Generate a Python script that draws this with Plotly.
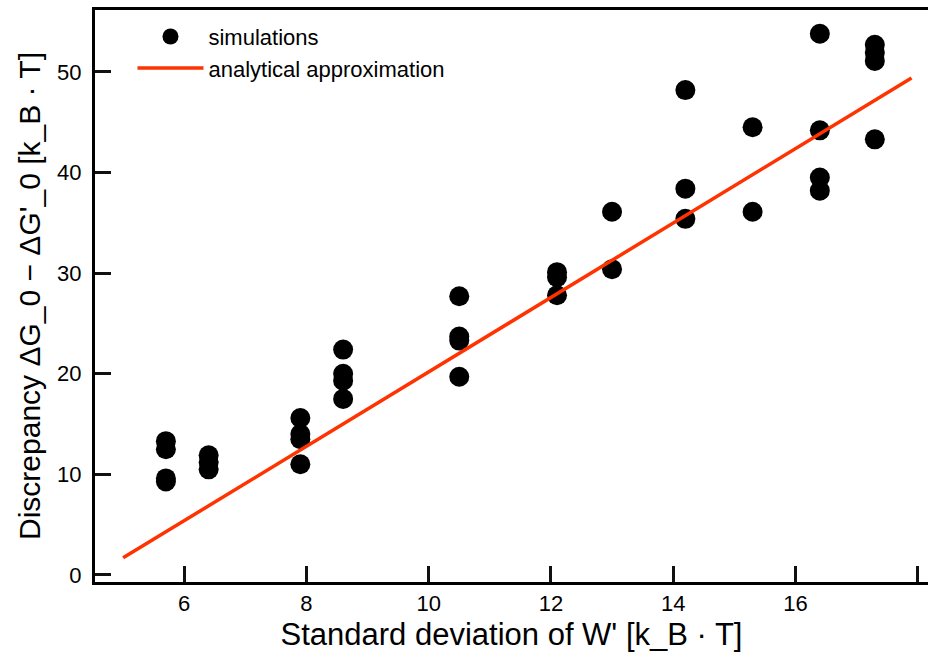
import plotly.graph_objects as go

# Simulation results: standard deviation of W' vs discrepancy
sim_x = [5.7, 5.7, 5.7, 5.7,
         6.4, 6.4, 6.4,
         7.9, 7.9, 7.9, 7.9,
         8.6, 8.6, 8.6, 8.6,
         10.5, 10.5, 10.5, 10.5,
         12.1, 12.1, 12.1,
         13.0, 13.0,
         14.2, 14.2, 14.2,
         15.3, 15.3,
         16.4, 16.4, 16.4, 16.4,
         17.3, 17.3, 17.3, 17.3]
sim_y = [13.3, 12.5, 9.6, 9.3,
         11.9, 11.2, 10.5,
         15.6, 14.0, 13.5, 11.0,
         22.4, 20.0, 19.3, 17.5,
         27.7, 23.7, 23.3, 19.7,
         30.1, 29.6, 27.8,
         36.1, 30.4,
         48.2, 38.4, 35.4,
         44.5, 36.1,
         53.8, 44.2, 39.5, 38.2,
         52.7, 51.9, 51.1, 43.3]

# Analytical approximation (straight line)
fit_x = [5.0, 17.9]
fit_y = [1.7, 49.4]

xticks = [6, 8, 10, 12, 14, 16, 18]
yticks = [0, 10, 20, 30, 40, 50]

font_family = "Liberation Sans, Arial, Helvetica, sans-serif"
tick_font = dict(family=font_family, size=22, color="black")
tick_col = "#111111"

fig = go.Figure()
fig.add_trace(go.Scatter(
    x=sim_x, y=sim_y, mode="markers", name="simulations",
    marker=dict(color="black", size=20, line=dict(width=0)),
))
fig.add_trace(go.Scatter(
    x=fit_x, y=fit_y, mode="lines", name="analytical approximation",
    line=dict(color="#ff3300", width=3.5),
))

fig.update_layout(
    width=928, height=664,
    margin=dict(l=95, r=0, t=10, b=82, autoexpand=False),
    paper_bgcolor="white", plot_bgcolor="white",
    font=dict(family=font_family, size=22, color="black"),
    showlegend=True,
    legend=dict(
        x=0.045, y=0.99, xanchor="left", yanchor="top",
        bgcolor="rgba(0,0,0,0)", borderwidth=0,
        font=dict(size=22), itemwidth=66, tracegroupgap=0,
    ),
)

fig.update_xaxes(
    range=[4.54, 18.17], tickmode="array", tickvals=xticks, ticktext=[str(v) for v in xticks],
    tickfont=tick_font,
    showgrid=False, zeroline=False,
    showline=True, linecolor="black", linewidth=3, mirror=True,
    ticks="inside", ticklen=16, tickwidth=3, tickcolor=tick_col,
    title=dict(text="Standard deviation of W' [k_B · T]", font=dict(size=31), standoff=8),
)
fig.update_yaxes(
    range=[-0.7, 56.16], tickmode="array", tickvals=yticks, ticktext=[str(v) + " " for v in yticks],
    tickfont=tick_font,
    showgrid=False, zeroline=False,
    showline=True, linecolor="black", linewidth=3, mirror=False,
    ticks="inside", ticklen=16, tickwidth=3, tickcolor=tick_col,
    title=dict(text="Discrepancy ΔG_0 − ΔG'_0 [k_B · T]", font=dict(size=30), standoff=8),
)

fig.write_html("out.html")
